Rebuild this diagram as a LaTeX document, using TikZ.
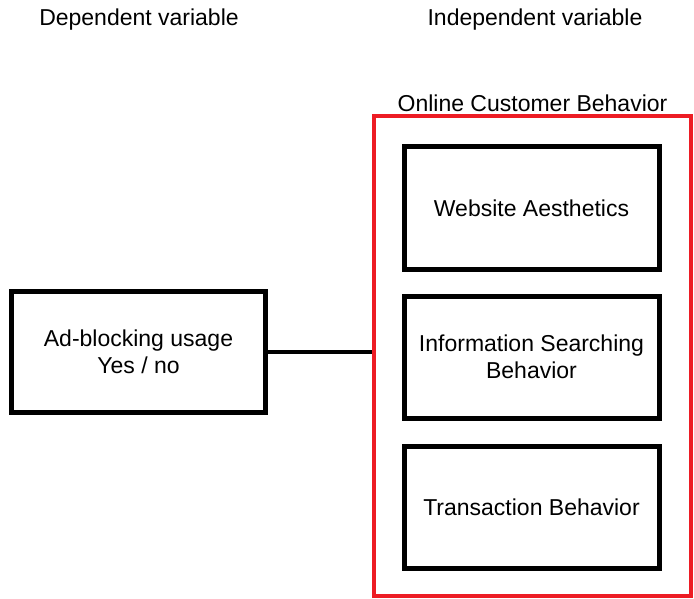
\documentclass[tikz,border=0pt]{standalone}
\usepackage{fontspec}
\setmainfont{Liberation Sans}
\definecolor{boxred}{RGB}{237, 28, 36}
\usetikzlibrary{positioning}

\begin{document}
\begin{tikzpicture}[
  x=1pt, y=-1pt,
  varbox/.style={draw=black, line width=5pt, minimum width=255pt, minimum height=122pt, align=center, font=\fontsize{23}{27}\selectfont, inner sep=2pt},
  heading/.style={font=\fontsize{23}{27}\selectfont}
]
  \useasboundingbox (0, 0) rectangle (694, 599);

  % Headings
  \node[heading] (dep) at (139, 20) {Dependent variable};
  \node[heading] (indep) at (535, 20) {Independent variable};

  % Group box
  \node[draw=boxred, line width=4.5pt, minimum width=317pt, minimum height=480pt] (ocb) at (532.5, 356) {};
  \node[heading, above=-2pt of ocb.north] (ocbtitle) {Online Customer Behavior};

  % Boxes
  \node[varbox, minimum width=254pt, minimum height=121pt] (adb) at (138.5, 352) {Ad-blocking usage\\Yes / no};
  \node[varbox] (wa) at (531.5, 208) {Website Aesthetics};
  \node[varbox] (isb) at (531.5, 357) {Information Searching\\Behavior};
  \node[varbox] (tb) at (531.5, 507.5) {Transaction Behavior};

  \draw[line width=4.5pt] (adb.east) -- (adb.east -| ocb.west);
\end{tikzpicture}
\end{document}
